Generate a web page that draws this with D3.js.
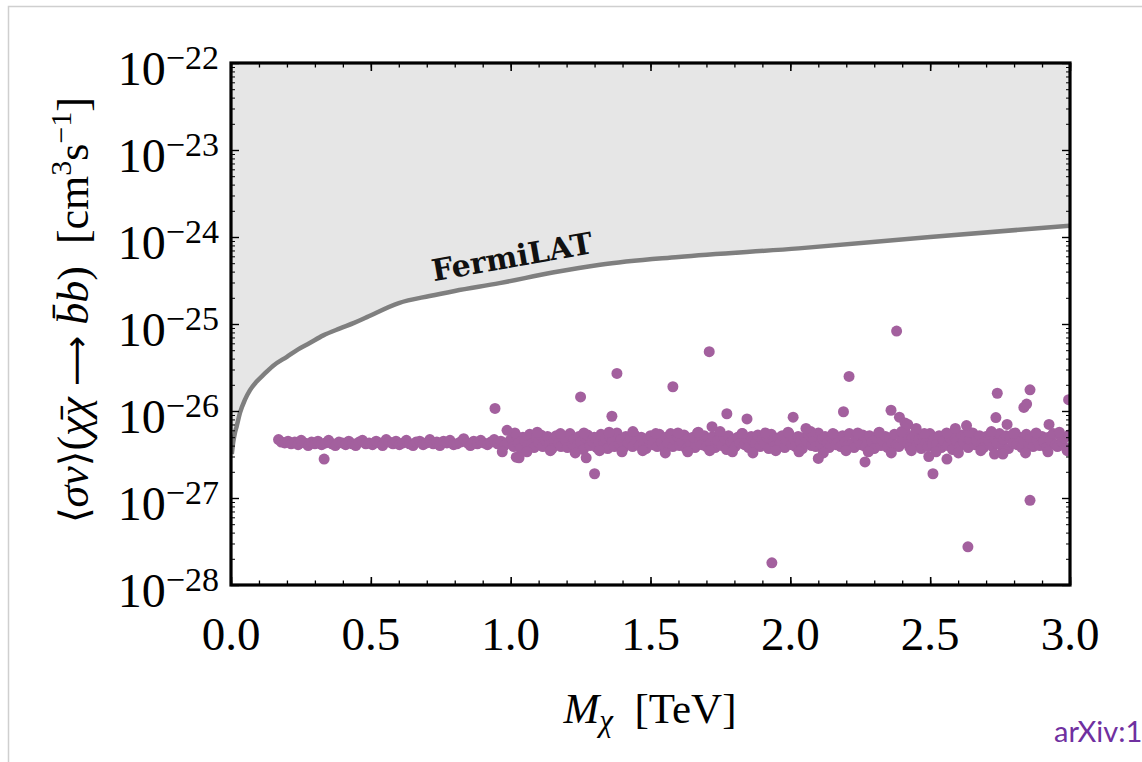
<!DOCTYPE html>
<html><head><meta charset="utf-8">
<script src="https://cdn.jsdelivr.net/npm/d3@7"></script>
<style>html,body{margin:0;padding:0;background:#fff;overflow:hidden}</style>
</head><body>
<svg id="c" width="1142" height="762"></svg>
<script>
// ---------- data ----------
const xTickValues = [0.0, 0.5, 1.0, 1.5, 2.0, 2.5, 3.0];
const xTickLabels = ["0.0", "0.5", "1.0", "1.5", "2.0", "2.5", "3.0"];
const yTickExponents = [-22, -23, -24, -25, -26, -27, -28];

// FermiLAT upper limit (TeV, cm^3 s^-1)
const fermiMass = [0.003, 0.008, 0.014, 0.020, 0.032, 0.050, 0.068, 0.090, 0.114, 0.150, 0.200, 0.240, 0.280, 0.330, 0.390, 0.440, 0.486, 0.600, 0.710, 0.800, 0.960, 1.150, 1.320, 1.600, 2.030, 2.500, 3.000];
const fermiSigmaV = [3.2e-27, 4.4e-27, 5.6e-27, 6.6e-27, 9.5e-27, 1.35e-26, 1.74e-26, 2.15e-26, 2.57e-26, 3.3e-26, 4.2e-26, 5.1e-26, 6.0e-26, 7.4e-26, 8.9e-26, 1.03e-25, 1.2e-25, 1.74e-25, 2.1e-25, 2.4e-25, 2.95e-25, 3.9e-25, 4.8e-25, 5.9e-25, 7.4e-25, 1.0e-24, 1.35e-24];

// scan points: low-mass part of band (TeV), sigma v in units of 1e-27 cm^3/s
const bandMassLow = [
 0.170,0.180,0.192,0.204,0.215,0.228,0.240,0.251,0.263,0.276,
 0.288,0.300,0.311,0.324,0.338,0.349,0.361,0.373,0.386,0.398,
 0.410,0.421,0.434,0.446,0.458,0.470,0.482,0.494,0.506,0.519,
 0.531,0.542,0.555,0.566,0.579,0.590,0.602,0.615,0.627,0.638,
 0.651,0.662,0.675,0.687,0.699,0.711,0.723,0.736,0.747,0.760,
 0.772,0.783,0.796,0.808,0.820,0.832,0.845,0.856,0.868,0.881,
 0.893,0.904,0.917,0.929,0.941,0.953,0.965,0.977,0.989,0.998];
const bandSvLow = [
 4.7,4.4,4.3,4.5,4.2,4.4,4.1,4.6,4.3,4.0,
 4.4,4.2,4.5,4.1,4.3,4.6,4.2,4.0,4.4,4.3,
 4.1,4.5,4.2,4.0,4.4,4.6,4.2,4.3,4.1,4.5,
 4.3,4.0,4.7,4.4,4.2,4.5,4.1,4.3,4.6,4.2,
 4.0,4.4,4.5,4.1,4.3,4.7,4.2,4.4,4.0,4.5,
 4.3,4.6,4.1,4.2,4.4,4.8,4.3,4.0,4.5,4.2,
 4.6,4.3,4.1,4.4,4.7,4.2,4.5,4.0,4.3,4.6];

// high-mass part of band
const bandMassHigh = [
 1.004,1.011,1.020,1.027,1.036,1.044,1.051,1.060,1.068,1.075,
 1.084,1.092,1.099,1.108,1.115,1.124,1.132,1.139,1.148,1.156,
 1.163,1.172,1.180,1.187,1.196,1.203,1.212,1.220,1.227,1.236,
 1.244,1.251,1.260,1.268,1.275,1.284,1.292,1.299,1.308,1.316,
 1.323,1.332,1.340,1.347,1.356,1.364,1.371,1.380,1.388,1.395,
 1.404,1.412,1.419,1.428,1.436,1.443,1.452,1.460,1.467,1.476,
 1.484,1.491,1.500,1.508,1.515,1.524,1.532,1.539,1.548,1.556,
 1.563,1.572,1.580,1.587,1.596,1.604,1.611,1.620,1.628,1.635,
 1.644,1.652,1.659,1.668,1.676,1.683,1.692,1.700,1.707,1.716,
 1.724,1.731,1.740,1.748,1.755,1.764,1.772,1.779,1.788,1.796,
 1.803,1.812,1.820,1.827,1.836,1.844,1.851,1.860,1.868,1.875,
 1.884,1.892,1.899,1.908,1.916,1.923,1.932,1.940,1.947,1.956,
 1.964,1.971,1.980,1.988,1.995,2.004,2.012,2.019,2.028,2.036,
 2.043,2.052,2.060,2.067,2.076,2.084,2.091,2.100,2.108,2.115,
 2.124,2.132,2.139,2.148,2.156,2.163,2.172,2.180,2.187,2.196,
 2.204,2.211,2.220,2.228,2.235,2.244,2.252,2.259,2.268,2.276,
 2.283,2.292,2.300,2.307,2.316,2.324,2.331,2.340,2.348,2.355,
 2.364,2.372,2.379,2.388,2.396,2.403,2.412,2.420,2.427,2.436,
 2.444,2.451,2.460,2.468,2.475,2.484,2.492,2.499,2.508,2.516,
 2.523,2.532,2.540,2.547,2.556,2.564,2.571,2.580,2.588,2.595,
 2.604,2.612,2.619,2.628,2.636,2.643,2.652,2.660,2.667,2.676,
 2.684,2.691,2.700,2.708,2.715,2.724,2.732,2.739,2.748,2.756,
 2.763,2.772,2.780,2.787,2.796,2.804,2.811,2.820,2.828,2.835,
 2.844,2.852,2.859,2.868,2.876,2.883,2.892,2.900,2.907,2.916,
 2.924,2.931,2.940,2.948,2.955,2.964,2.972,2.979,2.988,2.996];
const bandSvHigh = [
 4.8,3.9,5.2,4.3,3.7,5.0,4.5,4.0,5.4,4.2,
 3.8,4.9,4.4,5.3,3.9,4.6,5.1,4.1,3.7,4.8,
 5.2,4.3,3.9,5.0,4.6,3.8,5.5,4.2,4.7,3.9,
 5.1,4.4,3.6,4.9,5.3,4.0,4.5,5.0,3.8,4.3,
 5.4,4.1,4.8,3.7,5.0,4.4,3.9,5.6,4.2,4.7,
 3.8,5.1,4.3,4.9,3.9,5.3,4.5,4.0,5.0,4.2,
 3.7,4.8,5.2,4.1,4.6,3.9,5.4,4.4,3.8,5.0,
 4.3,5.5,3.9,4.7,5.1,4.0,4.5,5.3,3.7,4.9,
 4.2,5.0,3.8,5.6,4.4,4.1,5.2,3.9,4.8,4.3,
 5.1,3.8,4.6,5.4,4.0,4.9,3.6,5.2,4.4,4.7,
 3.9,5.0,4.3,5.5,4.1,4.8,3.8,5.1,4.5,4.2,
 5.3,3.9,4.7,4.2,5.0,3.7,5.4,4.4,4.0,4.9,
 4.3,5.2,3.8,4.6,5.5,4.1,4.8,3.9,5.1,4.4,
 3.7,5.0,4.5,5.3,4.0,4.7,3.9,5.6,4.2,4.8,
 5.1,4.3,3.8,4.9,5.4,4.1,4.6,3.9,5.2,4.4,
 4.0,5.5,4.2,3.8,5.0,4.7,4.1,5.3,3.9,4.6,
 5.2,4.4,3.7,4.9,5.6,4.0,4.5,5.1,3.8,4.8,
 4.3,5.4,4.1,3.9,5.0,4.6,5.7,4.2,3.8,4.9,
 5.3,4.0,4.7,3.7,5.1,4.4,3.9,5.5,4.2,4.8,
 4.1,5.2,3.8,4.6,5.4,4.0,4.9,3.6,5.0,4.5,
 3.9,5.3,4.4,5.0,3.8,4.7,5.6,4.1,4.5,5.2,
 4.2,3.8,5.1,4.6,5.4,3.9,4.8,4.3,5.5,4.0,
 4.7,5.2,3.7,4.9,4.3,5.6,4.1,5.0,3.8,4.6,
 5.4,4.2,4.8,3.9,5.3,4.5,4.0,5.1,4.4,3.8,
 5.0,4.6,5.5,4.1,3.9,5.2,4.4,4.9,3.7,5.3];

// points on the upper / lower fringe of the high-mass band
const fringeMass = [
 1.015,1.058,1.095,1.142,1.178,1.231,1.262,1.318,1.352,1.398,
 1.437,1.472,1.519,1.553,1.598,1.633,1.671,1.712,1.749,1.793,
 1.829,1.866,1.911,1.948,1.992,2.031,2.073,2.118,2.152,2.199,
 2.241,2.279,2.318,2.361,2.398,2.433,2.479,2.521,2.559,2.601,
 2.638,2.681,2.719,2.761,2.798,2.841,2.879,2.921,2.962,2.990];
const fringeSv = [
 5.6,3.4,5.7,3.5,5.5,3.3,5.6,3.5,5.7,3.4,
 5.8,3.5,5.5,3.3,5.6,3.4,5.7,3.5,5.8,3.4,
 5.5,3.3,5.6,3.5,5.7,3.4,5.8,3.3,5.5,3.5,
 5.6,3.4,5.7,3.3,5.8,3.5,5.5,3.4,5.6,3.3,
 5.7,3.5,5.8,3.4,5.5,3.3,5.6,3.4,5.7,3.5];

// scattered points away from the band (TeV, units of 1e-27)
const outlierMass = [0.333,0.944,0.987,0.970,1.020,1.030,1.250,1.270,1.300,1.362,1.380,1.580,1.710,1.720,1.773,1.845,1.934,2.010,2.056,2.100,2.190,2.210,2.267,2.360,2.380,2.390,2.410,2.420,2.450,2.495,2.510,2.560,2.590,2.630,2.635,2.730,2.735,2.740,2.760,2.775,2.835,2.845,2.857,2.857,2.925,2.995];
const outlierSv = [2.8,10.7,6.0,3.4,2.95,2.9,14.5,2.9,1.9,8.7,27,19,48,6.6,9.3,8.1,0.18,8.5,6.3,2.85,9.8,25,2.6,10.2,83,8.5,7.3,7.0,6.3,3.0,1.9,2.8,6.3,6.8,0.275,3.2,8.4,16,3.2,7.0,11,12,0.94,17.5,7.0,13.5];

// ---------- drawing ----------
const svg = d3.select("#c");
const L = 231, R = 1070, T = 63, B = 585;
const x = d3.scaleLinear().domain([0, 3]).range([L, R]);
const y = d3.scaleLog().domain([1e-28, 1e-22]).range([B, T]);
const serif = "'Liberation Serif','Times New Roman',serif";

// page border lines
svg.append("path").attr("d", "M8.5,762 V6.5 H1142")
  .attr("fill", "none").attr("stroke", "#cfcfcf").attr("stroke-width", 1.5);

svg.append("clipPath").attr("id", "plotclip").append("rect")
  .attr("x", L).attr("y", T).attr("width", R - L).attr("height", B - T);

const plot = svg.append("g").attr("clip-path", "url(#plotclip)");
const fermi = fermiMass.map((m, i) => [m, fermiSigmaV[i]]);
plot.append("path").datum(fermi)
  .attr("d", d3.area().curve(d3.curveMonotoneX).x(d => x(d[0])).y0(y(1e-22)).y1(d => y(d[1])))
  .attr("fill", "#e6e6e6");
plot.append("path").datum(fermi)
  .attr("d", d3.line().curve(d3.curveMonotoneX).x(d => x(d[0])).y(d => y(d[1])))
  .attr("fill", "none").attr("stroke", "#7f7f7f").attr("stroke-width", 4.5);

const pts = [];
bandMassLow.forEach((m, i) => pts.push([m, bandSvLow[i] * 1e-27]));
bandMassHigh.forEach((m, i) => pts.push([m, bandSvHigh[i] * 1e-27]));
fringeMass.forEach((m, i) => pts.push([m, fringeSv[i] * 1e-27]));
outlierMass.forEach((m, i) => pts.push([m, outlierSv[i] * 1e-27]));
plot.selectAll("circle.pt").data(pts).join("circle").attr("class", "pt")
  .attr("cx", d => x(d[0])).attr("cy", d => y(d[1])).attr("r", 5.5)
  .attr("fill", "#a3609e");

// FermiLAT label
svg.append("text").attr("transform", "translate(514,267) rotate(-10)")
  .attr("text-anchor", "middle").attr("font-family", "'DejaVu Serif',serif")
  .attr("font-weight", "bold").attr("font-size", 30).attr("fill", "#111")
  .text("FermiLAT");

// ticks (inward) on all four sides
const xMinor = d3.range(0, 3.0001, 0.1).map(v => +v.toFixed(1));
const yMinor = [];
for (let e = -28; e < -22; e++) for (let k = 2; k <= 9; k++) yMinor.push(k * Math.pow(10, e));
const yMajor = yTickExponents.map(e => Math.pow(10, e));
function addAxis(gen, tx, ty, vals, size, sw) {
  const g = svg.append("g").attr("transform", `translate(${tx},${ty})`)
    .call(gen.tickValues(vals).tickSize(-size).tickFormat(""));
  g.select(".domain").remove();
  g.selectAll(".tick line").attr("stroke", "#000").attr("stroke-width", sw);
}
addAxis(d3.axisBottom(x), 0, B, xMinor, 4.5, 1.3);
addAxis(d3.axisBottom(x), 0, B, xTickValues, 8, 1.6);
addAxis(d3.axisTop(x), 0, T, xMinor, 4.5, 1.3);
addAxis(d3.axisTop(x), 0, T, xTickValues, 8, 1.6);
addAxis(d3.axisLeft(y), L, 0, yMinor, 4, 1);
addAxis(d3.axisLeft(y), L, 0, yMajor, 8, 1.4);
addAxis(d3.axisRight(y), R, 0, yMinor, 4, 1);
addAxis(d3.axisRight(y), R, 0, yMajor, 8, 1.4);

// frame
svg.append("rect").attr("x", L).attr("y", T).attr("width", R - L).attr("height", B - T)
  .attr("fill", "none").attr("stroke", "#000").attr("stroke-width", 3.2);

// x tick labels
svg.selectAll("text.xl").data(xTickValues).join("text").attr("class", "xl")
  .attr("x", d => x(d)).attr("y", B + 65).attr("text-anchor", "middle")
  .attr("font-family", serif).attr("font-size", 47).attr("fill", "#000")
  .text((d, i) => xTickLabels[i]);

// y tick labels
yTickExponents.forEach(e => {
  const t = svg.append("text").attr("x", 219).attr("y", y(Math.pow(10, e)) + 22)
    .attr("text-anchor", "end").attr("font-family", serif).attr("fill", "#000");
  t.append("tspan").attr("font-size", 48).text("10");
  t.append("tspan").attr("font-size", 34).attr("dy", -16).text("\u2212" + Math.abs(e));
});

// x axis title
const xt = svg.append("text").attr("x", 650).attr("y", 723).attr("text-anchor", "middle")
  .attr("font-family", serif).attr("font-size", 43).attr("fill", "#000");
xt.append("tspan").attr("font-style", "italic").text("M");
xt.append("tspan").attr("font-style", "italic").attr("font-size", 31).attr("dy", 8).text("\u03C7");
xt.append("tspan").attr("dy", -8).text("\u2002[TeV]");

// y axis title
const ytg = svg.append("g").attr("transform", "translate(88,310) rotate(-90)");
const yt = ytg.append("text").attr("x", 0).attr("y", 0)
  .attr("font-family", serif).attr("font-size", 44).attr("fill", "#000");
yt.append("tspan").attr("font-family", "'DejaVu Serif',serif").attr("font-size", 40).text("\u27E8");
yt.append("tspan").attr("font-style", "italic").text("\u03C3v");
yt.append("tspan").attr("font-family", "'DejaVu Serif',serif").attr("font-size", 40).text("\u27E9");
yt.append("tspan").text("(");
yt.append("tspan").attr("font-style", "italic").text("\u03C7\u0304\u03C7");
yt.append("tspan").attr("font-family", "'DejaVu Sans',sans-serif").attr("font-size", 35).text(" \u27F6 ");
yt.append("tspan").attr("font-style", "italic").text("b\u0304b");
yt.append("tspan").text(")\u2002[cm");
yt.append("tspan").attr("font-size", 30).attr("dy", -17).text("3");
yt.append("tspan").attr("dy", 17).text("s");
yt.append("tspan").attr("font-size", 30).attr("dy", -17).text("\u22121");
yt.append("tspan").attr("dy", 17).text("]");
const bb = yt.node().getBBox();
yt.attr("x", -(bb.x + bb.width / 2));

// source note
svg.append("text").attr("x", 1054).attr("y", 742)
  .attr("font-family", "Lato,'Open Sans',sans-serif").attr("font-size", 29)
  .attr("fill", "#7030a0").text("arXiv:1");
</script>
</body></html>
